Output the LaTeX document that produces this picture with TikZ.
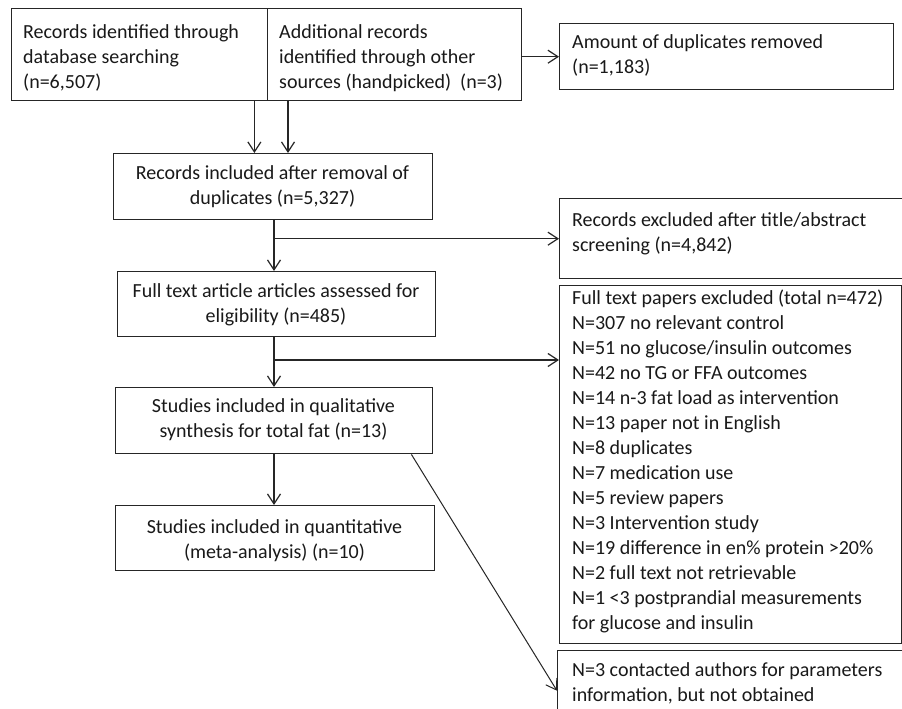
\documentclass[tikz,border=0pt]{standalone}
\usepackage{fontspec}
\setmainfont{Carlito}
\usetikzlibrary{arrows.meta}
\begin{document}
\begin{tikzpicture}[x=1pt,y=-1pt,
  box/.style={draw=black!85, line width=1.4pt, inner sep=0pt, anchor=north west},
  txt/.style={inner sep=0pt, font=\fontsize{20}{25}\selectfont, text=black!90},
  lt/.style={txt, anchor=base west, align=left},
  ct/.style={txt, anchor=base, align=center},
  arr/.style={draw=black!85, line width=1.2pt, -{Straight Barb[length=10pt,width=13pt]}}]
\useasboundingbox (0,0) rectangle (902,709);
\fill[white] (0,0) rectangle (902,709);
\clip (0,0) rectangle (902,709);
% boxes
\node[box, minimum width=256, minimum height=92] (A) at (11,8) {};
\node[box, minimum width=254, minimum height=92] (B) at (267,8) {};
\node[box, minimum width=334, minimum height=66] (C) at (559,23) {};
\node[box, minimum width=319, minimum height=66] (D) at (113,153) {};
\node[box, minimum width=318, minimum height=65] (E) at (117,271) {};
\node[box, minimum width=351, minimum height=80] (F) at (559,198) {};
\node[box, minimum width=317, minimum height=66] (G) at (115,387) {};
\node[box, minimum width=342, minimum height=358] (H) at (559,285) {};
\node[box, minimum width=319, minimum height=65] (I) at (115,505) {};
\node[box, minimum width=353, minimum height=80] (J) at (557,650) {};
% texts (anchor = baseline of the last line)
\node[lt] (At) at (23,88.5) {Records identified through\\database searching\\(n=6,507)};
\node[lt] (Bt) at (279,88.5) {Additional records\\identified through other\\sources (handpicked)\ \ (n=3)};
\node[lt] (Ct) at (572,73.5) {Amount of duplicates removed\\(n=1,183)};
\node[ct] (Dt) at (272.5,204) {Records included after removal of\\duplicates (n=5,327)};
\node[ct] (Et) at (276,322.5) {Full text article articles assessed for\\eligibility (n=485)};
\node[lt] (Ft) at (572,251.5) {Records excluded after title/abstract\\screening (n=4,842)};
\node[ct] (Gt) at (273.5,437.5) {Studies included in qualitative\\synthesis for total fat (n=13)};
\node[lt] (Ht) at (572,629.5) {Full text papers excluded (total n=472)\\
N=307 no relevant control\\
N=51 no glucose/insulin outcomes\\
N=42 no TG or FFA outcomes\\
N=14 n-3 fat load as intervention\\
N=13 paper not in English\\
N=8 duplicates\\
N=7 medication use\\
N=5 review papers\\
N=3 Intervention study\\
N=19 difference in en\% protein >20\%\\
N=2 full text not retrievable\\
N=1 <3 postprandial measurements\\
for glucose and insulin};
\node[ct] (It) at (274.5,558.5) {Studies included in quantitative\\(meta-analysis) (n=10)};
\node[lt] (Jt) at (572,701.5) {N=3 contacted authors for parameters\\information, but not obtained};
% connectors
\coordinate (a1) at ([xshift=-14pt]A.south east);
\coordinate (b1) at ([xshift=21pt]B.south west);
\coordinate (sp) at (274,0);
\coordinate (r2) at (274,360);
\coordinate (dg) at ([xshift=-22pt]G.south east);
\draw[arr] (a1) -- (a1 |- D.north);
\draw[arr] (b1) -- (b1 |- D.north);
\draw[arr] (B.east |- C.west) -- (C.west);
\draw[arr] (D.south -| sp) -- (E.north -| sp);
\draw[arr] (F.west -| sp) -- (F.west);
\draw[arr] (E.south -| sp) -- (G.north -| sp);
\draw[arr] (r2) -- (r2 -| H.west);
\draw[arr] (G.south -| sp) -- (I.north -| sp);
\draw[arr, line width=1pt] (dg) -- (J.west);
\end{tikzpicture}
\end{document}
